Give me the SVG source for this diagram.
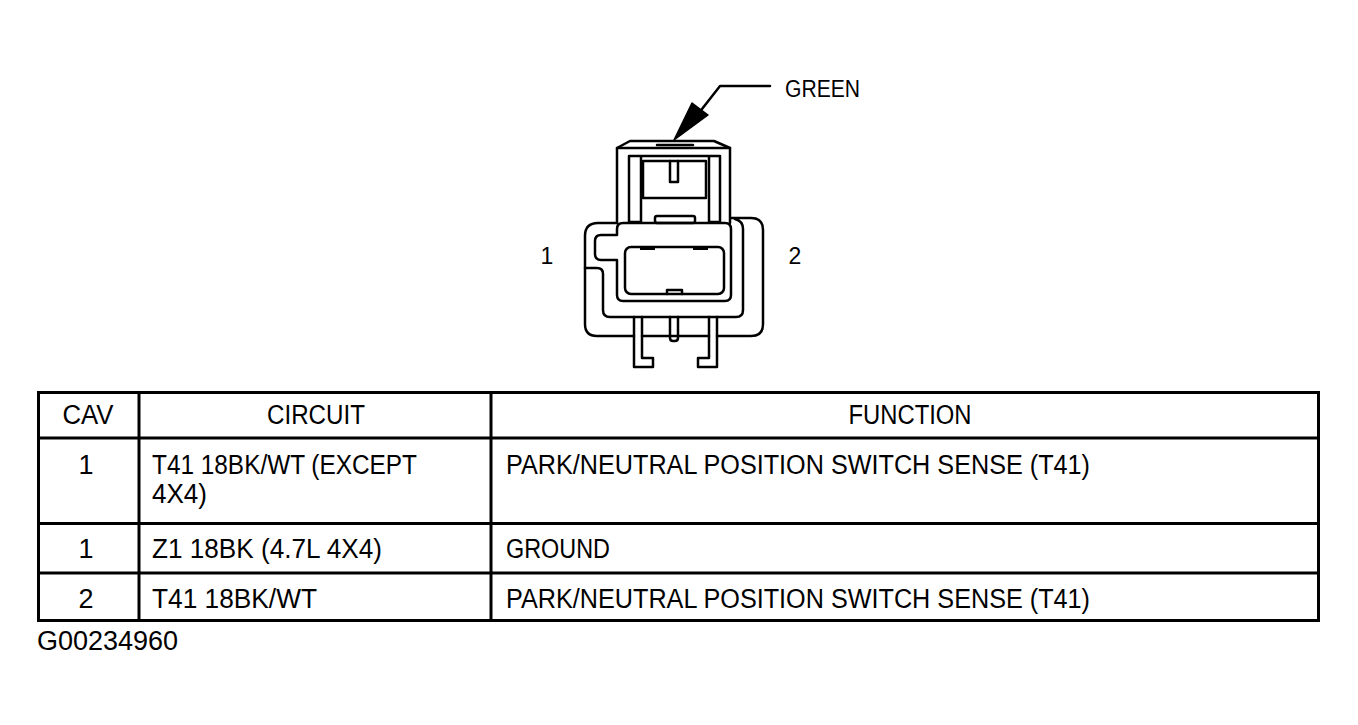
<svg xmlns="http://www.w3.org/2000/svg" width="1358" height="725" viewBox="0 0 1358 725">
<style>
.ln{fill:none;stroke:#000;stroke-width:2.5;stroke-linejoin:round;stroke-linecap:round}
.tb{fill:none;stroke:#000;stroke-width:3}
.t{font-family:"Liberation Sans",Arial,sans-serif;font-size:27px;fill:#000}
.c{text-anchor:middle}
.lbl{font-family:"Liberation Sans",Arial,sans-serif;font-size:23px;fill:#000}
</style>
<rect width="1358" height="725" fill="#fff"/>

<g id="connector-view">
  <!-- top cap -->
  <path class="ln" d="M617,223 V148 L630,141 H714 L730,148 V223"/>
  <path class="ln" d="M617,148 H730"/>
  <path class="ln" d="M657,145 H693" stroke-width="1.5"/>
  <path class="ln" d="M629,222 V156 H720 V222 M641,156 V222 M709,156 V222 M629,222 H641 M709,222 H720"/>
  <rect class="ln" x="643" y="161" width="63" height="37"/>
  <path class="ln" d="M670,161 V182 H678 V161"/>
  <rect class="ln" x="655" y="216" width="40" height="7" rx="2"/>
  <!-- housing -->
  <path class="ln" d="M623,223 H725 Q731,223 731,229 V295 Q731,301 725,301 H623 Q617,301 617,295 V260 H601 Q595,260 595,254 V241 Q595,235 601,235 H617 V229 Q617,223 623,223 Z"/>
  <rect class="ln" x="625" y="247" width="99" height="47" rx="6"/>
  <path d="M640,248 H655 M693,248 H708" stroke="#000" stroke-width="4"/>
  <path class="ln" d="M667,294 V290 H682 V294"/>
  <!-- outer shell -->
  <path class="ln" d="M617,223 H598 Q585,223 585,236 V324 Q585,336 597,336 H634"/>
  <path class="ln" d="M585,268 H597 Q603,268 603,274 V310 Q603,317 610,317 H736 Q743,317 743,310 V229 Q743,221 735,219"/>
  <path class="ln" d="M731,218 H751 Q763,218 763,230 V324 Q763,336 751,336 H717"/>
  <path class="ln" d="M642,336 H709"/>
  <!-- legs -->
  <path class="ln" d="M634,317 V367 H653 V358 H642 V317"/>
  <path class="ln" d="M717,317 V367 H698 V358 H709 V317"/>
  <path class="ln" d="M670,317 V338 Q670,341 673,341 H675 Q678,341 678,338 V317"/>
</g>

<g id="pin-labels">
  <text class="lbl" x="547" y="264" text-anchor="middle">1</text>
  <text class="lbl" x="795" y="264" text-anchor="middle">2</text>
</g>

<g id="green-label">
  <text class="lbl" x="785" y="97" font-size="26" textLength="75" lengthAdjust="spacingAndGlyphs">GREEN</text>
</g>

<g id="connectors">
  <path class="ln" d="M770,86 H720 L702,109"/>
  <polygon points="674,140 692,103 708,115" fill="#000" stroke="#000" stroke-width="1.5" stroke-linejoin="round"/>
</g>

<g id="table">
  <rect class="tb" x="38.5" y="392.5" width="1280" height="228"/>
  <path class="tb" d="M38.5,438 H1318.5 M38.5,523.5 H1318.5 M38.5,573 H1318.5 M139,392.5 V620.5 M491,392.5 V620.5"/>
  <text class="t c" x="88" y="424" textLength="51" lengthAdjust="spacingAndGlyphs">CAV</text>
  <text class="t c" x="316" y="424" textLength="98" lengthAdjust="spacingAndGlyphs">CIRCUIT</text>
  <text class="t c" x="910" y="424" textLength="123" lengthAdjust="spacingAndGlyphs">FUNCTION</text>

  <text class="t c" x="86" y="474">1</text>
  <text class="t" x="152" y="474" textLength="265" lengthAdjust="spacingAndGlyphs">T41 18BK/WT (EXCEPT</text>
  <text class="t" x="152" y="503" textLength="55" lengthAdjust="spacingAndGlyphs">4X4)</text>
  <text class="t" x="506" y="474" textLength="584" lengthAdjust="spacingAndGlyphs">PARK/NEUTRAL POSITION SWITCH SENSE (T41)</text>

  <text class="t c" x="86" y="558">1</text>
  <text class="t" x="152" y="558" textLength="230" lengthAdjust="spacingAndGlyphs">Z1 18BK (4.7L 4X4)</text>
  <text class="t" x="506" y="558" textLength="104" lengthAdjust="spacingAndGlyphs">GROUND</text>

  <text class="t c" x="86" y="608">2</text>
  <text class="t" x="152" y="608" textLength="165" lengthAdjust="spacingAndGlyphs">T41 18BK/WT</text>
  <text class="t" x="506" y="608" textLength="584" lengthAdjust="spacingAndGlyphs">PARK/NEUTRAL POSITION SWITCH SENSE (T41)</text>
</g>

<g id="figure-id">
  <text class="t" x="37" y="650" font-size="24">G00234960</text>
</g>
</svg>
